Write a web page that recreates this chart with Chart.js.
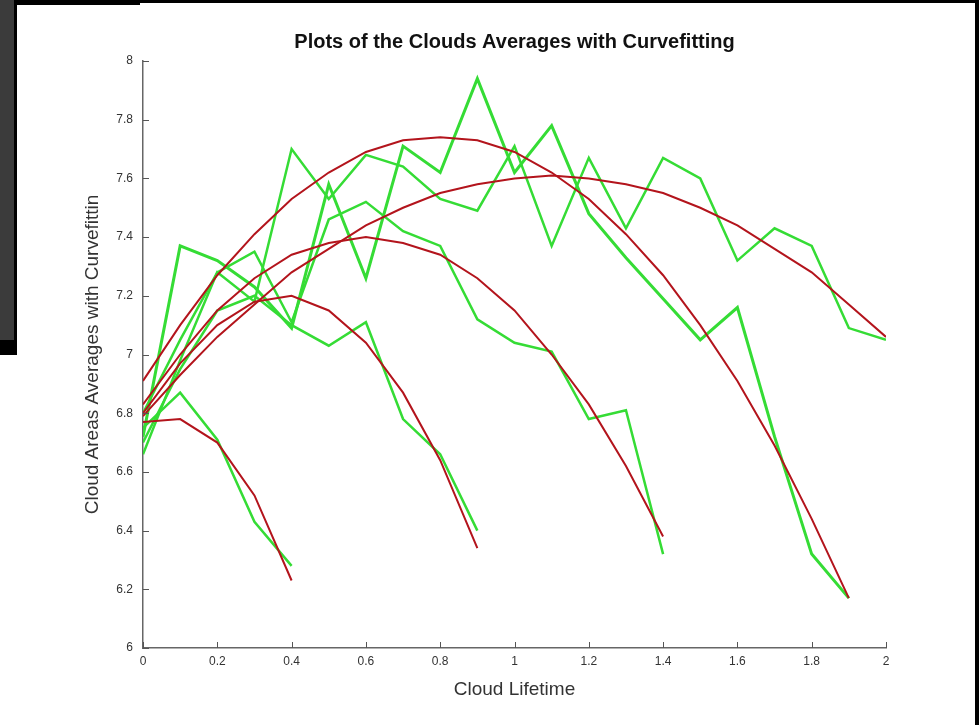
<!DOCTYPE html>
<html>
<head>
<meta charset="utf-8">
<script src="https://cdn.jsdelivr.net/npm/chart.js@4.4.1/dist/chart.umd.min.js"></script>
<style>
  html, body { margin: 0; padding: 0; background: #fff; }
  body { width: 979px; height: 725px; position: relative; overflow: hidden; }
  #wrap { position: absolute; left: 0; top: 0; width: 979px; height: 725px; }
  .frame { position: absolute; background: #000; }
  #panel { position: absolute; left: 0; top: 0; width: 14px; height: 340px; background: #3b3b3b; }
</style>
</head>
<body>
<div id="wrap"><canvas id="grafico" width="979" height="725"></canvas></div>
<!-- moldura escura herdada do print -->
<div id="panel"></div>
<div class="frame" style="left:14px; top:0; width:3px; height:355px;"></div>
<div class="frame" style="left:0; top:340px; width:17px; height:15px;"></div>
<div class="frame" style="left:14px; top:0; width:126px; height:5px;"></div>
<div class="frame" style="left:140px; top:0; width:839px; height:3px;"></div>
<div class="frame" style="left:975px; top:0; width:4px; height:725px;"></div>
<script>
// Eixo x (tempo de vida) e rótulos dos ticks
const lifetime = [0, 0.1, 0.2, 0.3, 0.4, 0.5, 0.6, 0.7, 0.8, 0.9, 1.0,
                  1.1, 1.2, 1.3, 1.4, 1.5, 1.6, 1.7, 1.8, 1.9, 2.0];
const xTickLabels = ["0", "0.2", "0.4", "0.6", "0.8", "1", "1.2", "1.4", "1.6", "1.8", "2"];
const yTickLabels = ["6", "6.2", "6.4", "6.6", "6.8", "7", "7.2", "7.4", "7.6", "7.8", "8"];

// Médias medidas (verde)
const greenA = [6.75, 6.87, 6.71, 6.43, 6.28];
const greenB = [6.70, 6.95, 7.15, 7.20, 7.10, 7.03, 7.11, 6.78, 6.66, 6.40];
const greenC = [6.80, 7.05, 7.28, 7.35, 7.11, 7.46, 7.52, 7.42, 7.37, 7.12, 7.04, 7.01, 6.78, 6.81, 6.32];
const greenD = [6.72, 7.37, 7.32, 7.23, 7.09, 7.58, 7.26, 7.71, 7.62, 7.94, 7.62, 7.78, 7.48, 7.33,
                7.19, 7.05, 7.16, 6.72, 6.32, 6.17];
const greenE = [6.66, 6.98, 7.28, 7.18, 7.70, 7.53, 7.68, 7.64, 7.53, 7.49, 7.71, 7.37, 7.67, 7.43,
                7.67, 7.60, 7.32, 7.43, 7.37, 7.09, 7.05];

// Curvas ajustadas (vermelho)
const redA = [6.77, 6.78, 6.70, 6.52, 6.23];
const redB = [6.80, 6.97, 7.10, 7.18, 7.20, 7.15, 7.04, 6.87, 6.64, 6.34];
const redC = [6.83, 7.00, 7.15, 7.26, 7.34, 7.38, 7.40, 7.38, 7.34, 7.26, 7.15, 7.00, 6.83, 6.62, 6.38];
const redD = [6.91, 7.10, 7.27, 7.41, 7.53, 7.62, 7.69, 7.73, 7.74, 7.73, 7.69, 7.62, 7.53, 7.41,
              7.27, 7.10, 6.91, 6.69, 6.44, 6.17];
const redE = [6.79, 6.93, 7.06, 7.17, 7.28, 7.36, 7.44, 7.50, 7.55, 7.58, 7.60, 7.61, 7.60, 7.58,
              7.55, 7.50, 7.44, 7.36, 7.28, 7.17, 7.06];

const FONTE = "'Liberation Sans', Arial, sans-serif";
const VERDE = "#35dc35";
const VERMELHO = "#b3141c";

function pontos(valores) {
    return valores.map((v, i) => ({ x: lifetime[i], y: v }));
}

function serie(valores, cor, largura, ordem) {
    return {
        data: pontos(valores),
        borderColor: cor,
        borderWidth: largura,
        pointRadius: 0,
        tension: 0,
        fill: false,
        order: ordem
    };
}

const datasets = [
    serie(greenA, VERDE, 2.5, 2),
    serie(greenB, VERDE, 2.5, 2),
    serie(greenC, VERDE, 2.5, 2),
    serie(greenD, VERDE, 3, 2),
    serie(greenE, VERDE, 2.5, 2),
    serie(redA, VERMELHO, 2, 1),
    serie(redB, VERMELHO, 2, 1),
    serie(redC, VERMELHO, 2, 1),
    serie(redD, VERMELHO, 2, 1),
    serie(redE, VERMELHO, 2, 1)
];

// Ticks para dentro, como no MATLAB
const ticksInternos = {
    id: "ticksInternos",
    afterDraw(chart) {
        const ctx = chart.ctx;
        const xs = chart.scales.x, ys = chart.scales.y;
        ctx.save();
        ctx.strokeStyle = "#555";
        ctx.lineWidth = 1;
        ctx.beginPath();
        xs.ticks.forEach(t => {
            const px = Math.round(xs.getPixelForValue(t.value)) + 0.5;
            ctx.moveTo(px, ys.bottom);
            ctx.lineTo(px, ys.bottom - 6);
        });
        ys.ticks.forEach(t => {
            const py = Math.round(ys.getPixelForValue(t.value)) + 0.5;
            ctx.moveTo(xs.left, py);
            ctx.lineTo(xs.left + 6, py);
        });
        ctx.stroke();
        ctx.restore();
    }
};

new Chart(document.getElementById("grafico"), {
    type: "line",
    data: { datasets: datasets },
    options: {
        responsive: false,
        animation: false,
        layout: { padding: { top: 20, right: 93, bottom: 0, left: 0 } },
        plugins: {
            legend: { display: false },
            tooltip: { enabled: false },
            title: {
                display: true,
                text: "Plots of the Clouds Averages with Curvefitting",
                fullSize: false,
                color: "#111",
                font: { family: FONTE, size: 20, weight: "bold" },
                padding: { top: 10, bottom: 7 }
            }
        },
        scales: {
            x: {
                type: "linear",
                min: 0, max: 2,
                afterFit(scale) { scale.height = 77; },
                ticks: {
                    stepSize: 0.2,
                    padding: 6,
                    maxRotation: 0,
                    autoSkip: false,
                    color: "#333",
                    font: { family: FONTE, size: 12 },
                    callback: (v, i) => xTickLabels[i]
                },
                grid: { display: true, drawOnChartArea: false, drawTicks: false },
                border: { color: "#666", width: 1.5 },
                title: {
                    display: true,
                    text: "Cloud Lifetime",
                    color: "#333",
                    font: { family: FONTE, size: 19 },
                    padding: { top: 4, bottom: 24 }
                }
            },
            y: {
                type: "linear",
                min: 6, max: 8,
                afterFit(scale) { scale.width = 143; },
                ticks: {
                    stepSize: 0.2,
                    padding: 10,
                    autoSkip: false,
                    color: "#333",
                    font: { family: FONTE, size: 12 },
                    callback: (v, i) => yTickLabels[i]
                },
                grid: { display: true, drawOnChartArea: false, drawTicks: false },
                border: { color: "#666", width: 1.5 },
                title: {
                    display: true,
                    text: "Cloud Areas Averages with Curvefittin",
                    color: "#333",
                    font: { family: FONTE, size: 19 },
                    padding: { top: 81, bottom: 0 }
                }
            }
        }
    },
    plugins: [ticksInternos]
});
</script>
</body>
</html>
